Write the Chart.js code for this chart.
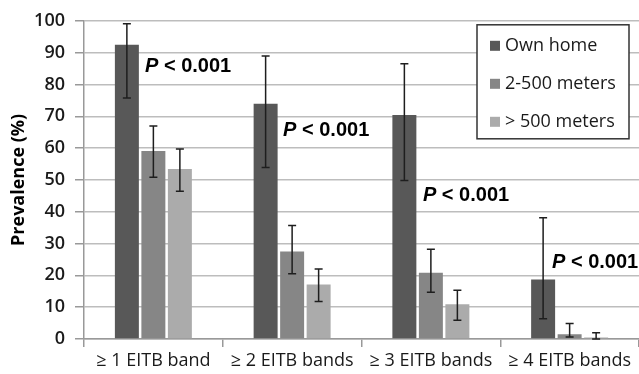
<!DOCTYPE html>
<html>
<head>
<meta charset="utf-8">
<script src="https://cdn.jsdelivr.net/npm/chart.js@4"></script>
<style>
  html, body { margin: 0; padding: 0; background: #fff; }
  #wrap { width: 639px; height: 374px; }
</style>
</head>
<body>
<div id="wrap"><canvas id="chart"></canvas></div>
<script>
/**
 * Chart data
 */
const categories = ['≥ 1 EITB band', '≥ 2 EITB bands', '≥ 3 EITB bands', '≥ 4 EITB bands'];
const seriesNames = ['Own home', '2-500 meters', '> 500 meters'];

const ownHome = [92.5, 73.9, 70.4, 18.7];
const ownHomeLow = [75.7, 53.9, 49.8, 6.4];
const ownHomeHigh = [99.1, 88.9, 86.5, 38.1];

const near = [59.1, 27.5, 20.8, 1.5];
const nearLow = [50.8, 20.5, 14.7, 0.6];
const nearHigh = [66.9, 35.7, 28.2, 4.9];

const far = [53.4, 17.1, 10.9, 0.5];
const farLow = [46.4, 11.8, 5.9, 0];
const farHigh = [59.7, 22.0, 15.3, 2.0];

const pLabels = ['< 0.001', '< 0.001', '< 0.001', '< 0.001'];

/**
 * Style
 */
const colors = ['#585858', '#868686', '#ababab'];
const tickFont = { family: 'Open Sans', size: 18, weight: '600' };
const labelColor = '#1a1a1a';

// where the "P < 0.001" notes sit: category offset (in category widths) and y value of text centre
const pNotePos = [
    { dx: -0.06, y: 85.6 },
    { dx: -0.065, y: 65.4 },
    { dx: -0.057, y: 45.1 },
    { dx: -0.127, y: 24.0 }
];

/**
 * Error bars drawn through the scales
 */
const errorBars = {
    id: 'errorBars',
    afterDatasetsDraw(chart) {
        const ctx = chart.ctx;
        const y = chart.scales.y;
        const ranges = [[ownHomeLow, ownHomeHigh], [nearLow, nearHigh], [farLow, farHigh]];
        ctx.save();
        ctx.strokeStyle = '#1e1e1e';
        ctx.lineWidth = 1.5;
        chart.data.datasets.forEach((ds, d) => {
            const meta = chart.getDatasetMeta(d);
            meta.data.forEach((bar, i) => {
                const lo = y.getPixelForValue(ranges[d][0][i]);
                const hi = y.getPixelForValue(ranges[d][1][i]);
                const cap = 4;
                ctx.beginPath();
                ctx.moveTo(bar.x, lo); ctx.lineTo(bar.x, hi);
                ctx.moveTo(bar.x - cap, lo); ctx.lineTo(bar.x + cap, lo);
                ctx.moveTo(bar.x - cap, hi); ctx.lineTo(bar.x + cap, hi);
                ctx.stroke();
            });
        });
        ctx.restore();
    }
};

/**
 * P-value notes and the boxed legend
 */
const notesAndLegend = {
    id: 'notesAndLegend',
    afterDraw(chart) {
        const ctx = chart.ctx;
        const x = chart.scales.x;
        const y = chart.scales.y;
        const area = chart.chartArea;
        const catW = (area.right - area.left) / categories.length;

        ctx.save();
        ctx.textBaseline = 'middle';
        ctx.fillStyle = '#000';
        pLabels.forEach((txt, i) => {
            let px = x.getPixelForValue(i) + pNotePos[i].dx * catW;
            const py = y.getPixelForValue(pNotePos[i].y);
            ctx.font = 'italic bold 20px "Liberation Sans"';
            ctx.fillText('P', px, py);
            px += ctx.measureText('P ').width;
            ctx.font = 'bold 20px "Liberation Sans"';
            ctx.fillText(txt, px, py);
        });

        // legend box
        const bx = area.right - 162, by = area.top + 4, bw = 152, bh = 114;
        ctx.fillStyle = '#fff';
        ctx.fillRect(bx, by, bw, bh);
        ctx.strokeStyle = '#333';
        ctx.lineWidth = 1.5;
        ctx.strokeRect(bx, by, bw, bh);
        ctx.font = '18px "Open Sans"';
        seriesNames.forEach((name, i) => {
            const cy = by + 21 + i * 38;
            ctx.fillStyle = colors[i];
            ctx.fillRect(bx + 13, cy - 5, 10, 10);
            ctx.fillStyle = labelColor;
            ctx.fillText(name, bx + 28, cy);
        });
        ctx.restore();
    }
};

const seriesData = [ownHome, near, far];

new Chart(document.getElementById('chart').getContext('2d'), {
    type: 'bar',
    data: {
        labels: categories,
        datasets: seriesNames.map((name, i) => ({
            label: name,
            data: seriesData[i],
            backgroundColor: colors[i],
            borderWidth: 0,
            categoryPercentage: 0.573,
            barPercentage: 0.905
        }))
    },
    options: {
        responsive: true,
        maintainAspectRatio: false,
        animation: false,
        layout: { padding: { top: 18, right: 0, bottom: 0, left: 0 } },
        plugins: {
            legend: { display: false },
            tooltip: { enabled: false }
        },
        scales: {
            x: {
                grid: { offset: true, drawOnChartArea: false, tickLength: 8, color: '#999', lineWidth: 1.5 },
                border: { color: '#999', width: 1.5 },
                ticks: { font: { family: 'Open Sans', size: 18 }, color: labelColor, maxRotation: 0, padding: 3 },
                afterFit: (axis) => { axis.height = 35; }
            },
            y: {
                min: 0,
                max: 100,
                ticks: { stepSize: 10, font: tickFont, color: labelColor, padding: 10 },
                grid: { color: '#bdbdbd', lineWidth: 1.5, tickLength: 9, tickColor: '#999' },
                border: { color: '#999', width: 1.5 },
                title: {
                    display: true,
                    text: 'Prevalence (%)',
                    font: { family: 'Open Sans', size: 18, weight: 'bold' },
                    color: '#000',
                    padding: { top: 8, bottom: 0 }
                },
                afterFit: (axis) => { axis.width = 84; }
            }
        }
    },
    plugins: [errorBars, notesAndLegend]
});
</script>
</body>
</html>
